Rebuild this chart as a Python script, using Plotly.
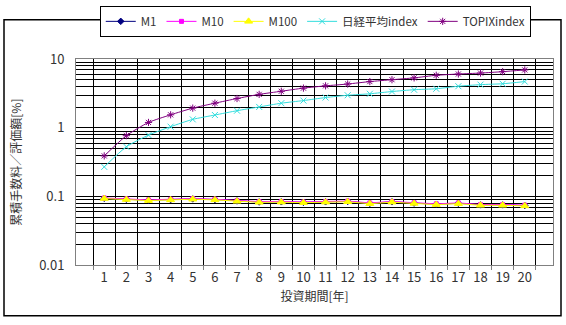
import plotly.graph_objects as go

# Investment period (years) and cumulative fee / valuation [%]
years = [str(i) for i in range(1, 21)]

m1 = [0.094, 0.091, 0.088, 0.090, 0.092, 0.090, 0.086, 0.083, 0.0835, 0.082,
      0.0835, 0.0846, 0.0794, 0.0835, 0.080, 0.077, 0.0794, 0.0753, 0.0753, 0.0737]
m10 = [0.095, 0.092, 0.089, 0.091, 0.093, 0.091, 0.087, 0.084, 0.0845, 0.083,
       0.0845, 0.0856, 0.0804, 0.0845, 0.081, 0.078, 0.0804, 0.0763, 0.0763, 0.0747]
m100 = [0.093, 0.090, 0.087, 0.089, 0.091, 0.089, 0.085, 0.082, 0.0825, 0.081,
        0.0825, 0.0836, 0.0784, 0.0825, 0.079, 0.076, 0.0784, 0.0743, 0.0743, 0.0727]
nikkei = [0.27, 0.53, 0.785, 1.04, 1.33, 1.54, 1.78, 2.02, 2.29, 2.5,
          2.77, 2.99, 3.14, 3.39, 3.6, 3.72, 4.05, 4.27, 4.4, 4.73]
topix = [0.39, 0.77, 1.2, 1.55, 1.94, 2.29, 2.68, 3.08, 3.42, 3.8,
         4.1, 4.36, 4.73, 5.04, 5.36, 5.85, 6.1, 6.3, 6.6, 7.0]

y_ticks = [0.01, 0.1, 1, 10]
y_tick_text = ["0.01", "0.1", "1", "10"]
y_minor = [m * 10 ** e for e in (-2, -1, 0) for m in range(2, 10)]

FONT = "Noto Sans CJK JP"

series = [
    ("M1", m1, "#000080", "diamond", 5, "linear"),
    ("M10", m10, "#FF00FF", "square", 4, "linear"),
    ("M100", m100, "#FFFF00", "triangle-up", 7, "linear"),
    ("日経平均index", nikkei, "#33DDDD", "x-thin-open", 6, "spline"),
    ("TOPIXindex", topix, "#800080", "asterisk-open", 6, "spline"),
]

fig = go.Figure()
for name, vals, color, symbol, size, shape in series:
    fig.add_trace(go.Scatter(
        x=years, y=vals, name=name, mode="lines+markers",
        line=dict(color=color, width=1, shape=shape, smoothing=0.6),
        marker=dict(symbol=symbol, size=size, color=color,
                    line=dict(color=color, width=1)),
    ))

fig.update_layout(
    width=566, height=325,
    margin=dict(l=76, r=13, t=46, b=60),
    paper_bgcolor="white", plot_bgcolor="white",
    font=dict(family=FONT, size=12, color="#333333"),
    showlegend=True,
    legend=dict(
        orientation="h", xref="container", yref="container",
        x=0.557, xanchor="center", y=0.982, yanchor="top",
        bordercolor="black", borderwidth=1, bgcolor="white",
        font=dict(size=11.5, color="#333333"),
        itemwidth=30, tracegroupgap=0,
    ),
    shapes=[dict(type="rect", xref="paper", yref="paper",
                 x0=-72 / 477, x1=485 / 477, y0=-54 / 219, y1=261 / 219,
                 line=dict(color="black", width=1.5), layer="below")],
)

fig.update_xaxes(
    type="category", tickson="boundaries",
    showgrid=True, gridcolor="black", gridwidth=1,
    ticks="outside", ticklen=4, tickcolor="#808080",
    showline=True, linecolor="#808080", linewidth=1, mirror=True,
    tickangle=0,
    tickfont=dict(size=13, color="#333333"),
    title=dict(text="投資期間[年]", font=dict(size=12, color="#333333"), standoff=8),
)

fig.update_yaxes(
    type="log", range=[-2, 1],
    tickvals=y_ticks, ticktext=y_tick_text,
    showgrid=True, gridcolor="black", gridwidth=1,
    minor=dict(tickvals=y_minor, showgrid=True, gridcolor="black", gridwidth=1),
    showline=True, linecolor="#808080", linewidth=1, mirror=True,
    ticks="", ticklabelstandoff=8,
    tickfont=dict(size=13, color="#333333"),
    title=dict(text="累積手数料／評価額[%]", font=dict(size=12, color="#333333"), standoff=14),
)

fig.write_html("out.html")
